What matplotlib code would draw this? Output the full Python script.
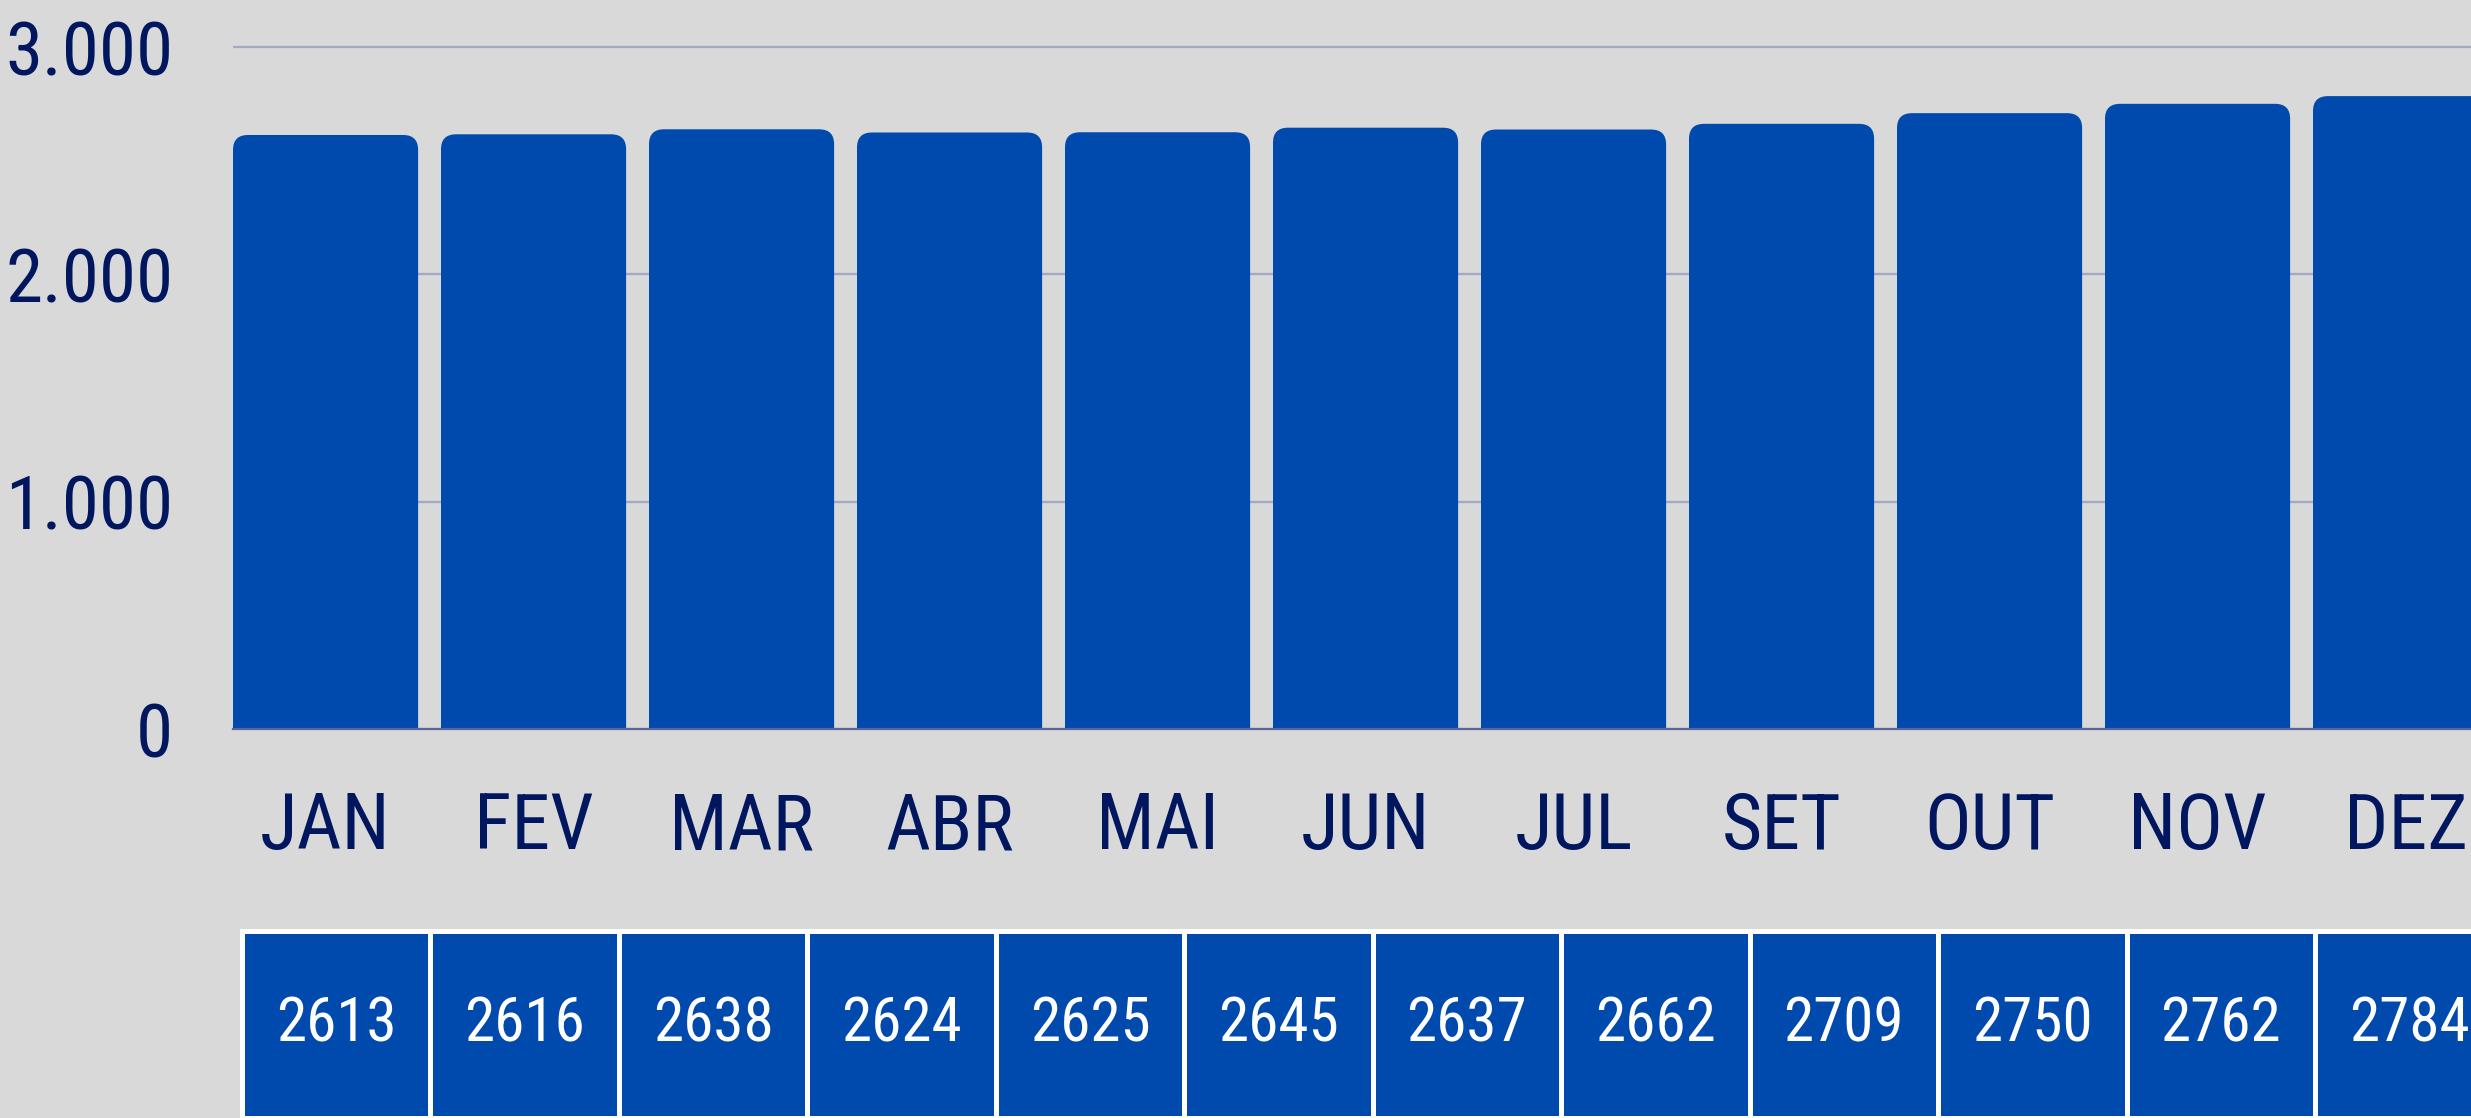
import matplotlib
matplotlib.use('Agg')
import matplotlib.pyplot as plt
from matplotlib import font_manager
from matplotlib.patches import FancyBboxPatch
from matplotlib.ticker import FuncFormatter

# dados
meses = ['JAN', 'FEV', 'MAR', 'ABR', 'MAI', 'JUN', 'JUL', 'SET', 'OUT', 'NOV', 'DEZ']
valores = [2613, 2616, 2638, 2624, 2625, 2645, 2637, 2662, 2709, 2750, 2784]
tabela = [2613, 2616, 2638, 2624, 2625, 2645, 2637, 2662, 2709, 2750, 2762, 2784]
y_ticks = [0, 1000, 2000, 3000]

# cores
FUNDO = '#D9D9D9'
AZUL = '#004AAD'
MARINHO = '#00175F'
GRADE = '#A3AAC0'
EIXO = '#56659A'

# fonte estreita, se houver
nomes = {f.name for f in font_manager.fontManager.ttflist}
familia, largura_fonte = 'DejaVu Sans', 'condensed'
for n in ['Roboto Condensed', 'Liberation Sans Narrow', 'DejaVu Sans Condensed']:
    if n in nomes:
        familia, largura_fonte = n, 'normal'
        break
plt.rcParams['font.family'] = [familia, 'DejaVu Sans']
plt.rcParams['font.stretch'] = largura_fonte

W, H = 2471, 1118
fig = plt.figure(figsize=(W / 100, H / 100), dpi=100, facecolor=FUNDO)

# eixo principal (pixels medidos na referência)
ax = fig.add_axes([233 / W, (H - 729) / H, (W - 233) / W, 729 / H])
ax.set_facecolor(FUNDO)

largura = 0.89
x0, x1 = -largura / 2, -largura / 2 + (W - 233) / 208
y1 = 3000 * 729 / 682
ax.set_xlim(x0, x1)
ax.set_ylim(0, y1)

# barras com cantos de cima arredondados
x = list(range(len(meses)))
barras = ax.bar(x, valores, width=largura, color=AZUL, zorder=2)
ux = (x1 - x0) / (W - 233)   # unidades x por pixel
uy = y1 / 729                # unidades y por pixel
raio = 15 * ux
for r in barras:
    r.set_visible(False)
    ax.add_patch(FancyBboxPatch((r.get_x(), -300), r.get_width(), r.get_height() + 300,
                                boxstyle=f'round,pad=0,rounding_size={raio}',
                                mutation_aspect=uy / ux, fc=AZUL, ec='none', zorder=2))

ax.set_yticks(y_ticks)
ax.yaxis.set_major_formatter(FuncFormatter(lambda v, p: f'{v:,.0f}'.replace(',', '.')))
ax.yaxis.grid(True, color=GRADE, linewidth=1.6)
ax.set_axisbelow(True)
for s in ['top', 'right', 'left']:
    ax.spines[s].set_visible(False)
ax.spines['bottom'].set_color(EIXO)
ax.spines['bottom'].set_linewidth(1.6)

ax.set_xticks(x, meses)
ax.tick_params(axis='y', length=0, pad=43, labelsize=54, labelcolor=MARINHO)
ax.tick_params(axis='x', length=0, pad=44, labelsize=56, labelcolor=MARINHO)

# tabela de valores embaixo
tax = fig.add_axes([242 / W, 0, 12 * 188.45 / W, (H - 931) / H])
tax.axis('off')
tbl = tax.table(cellText=[[str(v) for v in tabela]], cellLoc='center', bbox=[0, 0, 1, 1])
tbl.auto_set_font_size(False)
tbl.set_fontsize(44)
for cel in tbl.get_celld().values():
    cel.set_facecolor(AZUL)
    cel.set_edgecolor('white')
    cel.set_linewidth(3.6)
    cel.get_text().set_color('white')

fig.savefig('out.png', dpi=100, facecolor=FUNDO)
